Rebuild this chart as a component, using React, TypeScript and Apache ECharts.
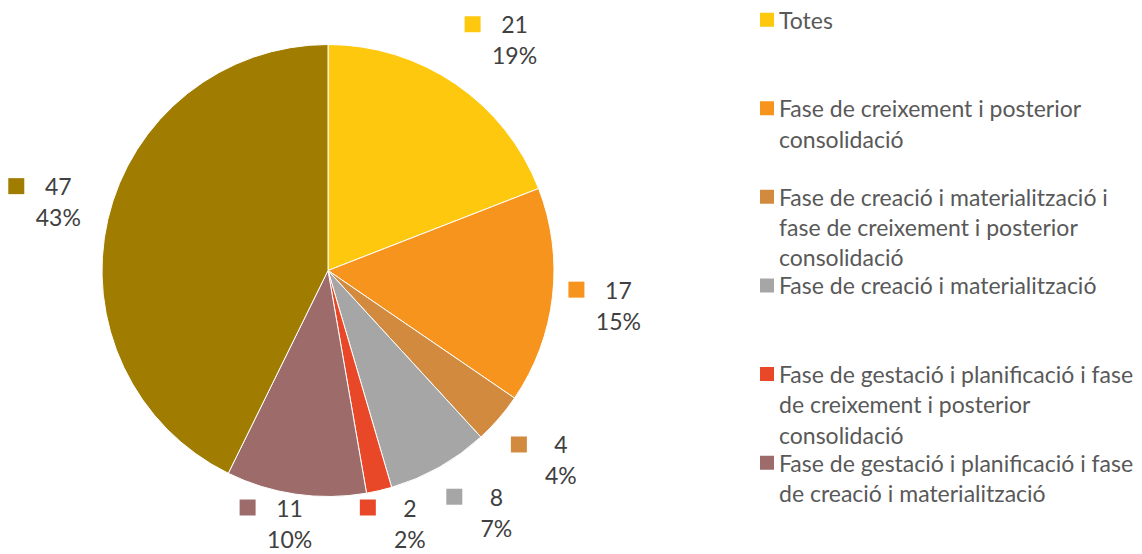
import React, { useEffect, useRef } from 'react';
import * as echarts from 'echarts';

const W = 1142;
const H = 554;
const CX = 328;
const CY = 270.5;
const R = 226;
const FONT = 'Lato';

const CATEGORIES = [
  'Totes',
  'Fase de creixement i posterior consolidació',
  'Fase de creació i materialització i fase de creixement i posterior consolidació',
  'Fase de creació i materialització',
  'Fase de gestació i planificació i fase de creixement i posterior consolidació',
  'Fase de gestació i planificació i fase de creació i materialització',
  'Fase de gestació i planificació',
];
const VALUES = [21, 17, 4, 8, 2, 11, 47];
const COLORS = ['#FDC80E', '#F7941E', '#D28B3E', '#A6A6A6', '#E84827', '#9E6B6B', '#A07D00'];
const LEGEND_COUNT = 6;
const LEGEND_LINES: string[][] = [
  ['Totes'],
  ['Fase de creixement i posterior', 'consolidació'],
  ['Fase de creació i materialització i', 'fase de creixement i posterior', 'consolidació'],
  ['Fase de creació i materialització'],
  ['Fase de gestació i planificació i fase', 'de creixement i posterior', 'consolidació'],
  ['Fase de gestació i planificació i fase', 'de creació i materialització'],
];

const LEG_LINE = 30.3;
const LEG_ITEM = LEG_LINE * 3;
const LEG_SLOT = 88.6;

export default function App() {
  const ref = useRef<HTMLDivElement>(null);
  useEffect(() => {
    const chart = echarts.init(ref.current!, null, { renderer: 'svg' });

    const rich: Record<string, any> = {
      v: { width: 68, align: 'center', fontSize: 23, color: '#404040', fontFamily: FONT, lineHeight: 31 },
      sp: { width: 16, lineHeight: 31 },
    };
    COLORS.forEach((c, i) => {
      rich['sq' + i] = { width: 16, height: 16, backgroundColor: c, lineHeight: 31 };
    });

    const G = 16;
    const f = (t: number) => Math.max(-1, Math.min(1, t * 2));

    const sqTop = LEG_LINE / 2 - 7;
    const iconPath =
      'path://M0,0h0.01v0.01h-0.01z M0,' + sqTop + 'h14v14h-14z M0,' + (LEG_ITEM - 0.01) + 'h0.01v0.01h-0.01z';

    chart.setOption({
      animation: false,
      backgroundColor: '#ffffff',
      legend: {
        orient: 'vertical',
        left: 760,
        top: 4.5,
        padding: 0,
        itemWidth: 14,
        itemHeight: LEG_ITEM,
        itemGap: LEG_SLOT - LEG_ITEM,
        icon: iconPath,
        itemStyle: { borderWidth: 0 },
        selectedMode: false,
        data: CATEGORIES.slice(0, LEGEND_COUNT),
        formatter: (name: string) => {
          const idx = CATEGORIES.indexOf(name);
          const lines = (LEGEND_LINES[idx] || [name]).slice();
          while (lines.length < 3) lines.push(' ');
          return lines.join('\n');
        },
        textStyle: { fontFamily: FONT, fontSize: 23, color: '#595959', lineHeight: LEG_LINE },
      },
      series: [
        {
          type: 'pie',
          center: [CX, CY],
          radius: R,
          startAngle: 90,
          clockwise: true,
          avoidLabelOverlap: false,
          emphasis: { disabled: true },
          itemStyle: { borderColor: '#ffffff', borderWidth: 1 },
          data: CATEGORIES.map((name, i) => ({ name, value: VALUES[i], itemStyle: { color: COLORS[i] } })),
          label: {
            show: true,
            position: 'outside',
            fontFamily: FONT,
            fontSize: 23,
            color: '#404040',
            lineHeight: 31,
            formatter: (p: any) =>
              `{sq${p.dataIndex}|}{v|${p.value}}\n{sp|}{v|${Math.round(p.percent)}%}`,
            rich,
          },
          labelLine: { show: true, length: 10, length2: 1, lineStyle: { opacity: 0, width: 0 } },
          labelLayout: (params: any) => {
            const pts = params.labelLinePoints;
            const rect = params.labelRect;
            if (!pts || !pts[0]) return {};
            const x0 = pts[0][0];
            const y0 = pts[0][1];
            let dx = x0 - CX;
            let dy = y0 - CY;
            const len = Math.hypot(dx, dy) || 1;
            dx /= len;
            dy /= len;
            let x = x0 + dx * G + (rect.width / 2) * f(dx);
            let y = y0 + dy * G + (rect.height / 2) * f(dy);
            x = Math.min(Math.max(x, rect.width / 2), W - rect.width / 2);
            y = Math.min(Math.max(y, rect.height / 2), H - rect.height / 2);
            return { x, y, align: 'center', verticalAlign: 'middle' };
          },
        },
      ],
    });
    return () => chart.dispose();
  }, []);
  return (
    <div
      ref={ref}
      style={{ position: 'fixed', left: 0, top: 0, width: W, height: H, background: '#fff' }}
    />
  );
}
